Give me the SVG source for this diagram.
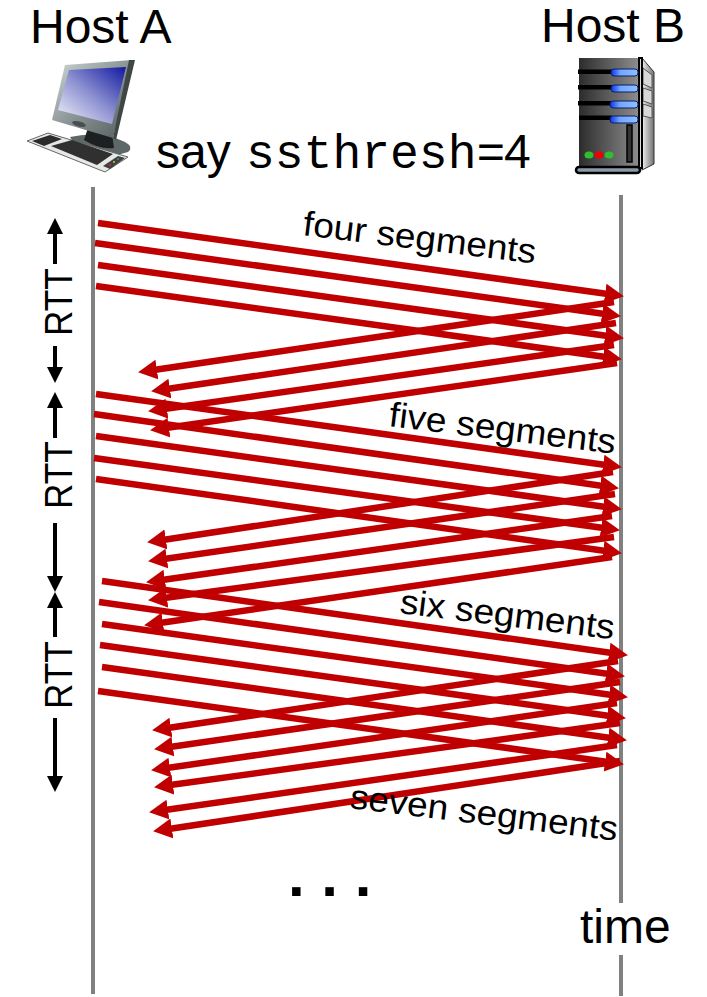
<svg xmlns="http://www.w3.org/2000/svg" width="707" height="997" viewBox="0 0 707 997">
<style>
text{font-family:"Liberation Sans",Arial,sans-serif;fill:#000}
.h{font-size:48px}
.s{font-size:37px}
.r{font-size:39px}
.m{font-size:48px;font-family:"Liberation Mono","Courier New",monospace}
.tl{stroke:#808080;stroke-width:4;fill:none}
.d{stroke:#c00000;stroke-width:6.500;fill:none;marker-end:url(#ah)}
.k{stroke:#000;stroke-width:4;fill:none;marker-end:url(#bk)}
.bar{fill:#000}
.pill{fill:url(#led);stroke:#0a1a70;stroke-width:1}
.bay{fill:#d8d8d8;stroke:#555;stroke-width:1}
</style>
<defs>
<marker id="ah" markerUnits="userSpaceOnUse" markerWidth="22" markerHeight="22" refX="10" refY="10" orient="auto"><path d="M0 0L19 10L0 20Z" fill="#c00000"/></marker>
<marker id="bk" markerUnits="userSpaceOnUse" markerWidth="20" markerHeight="20" refX="2" refY="8" orient="auto"><path d="M0 0L16 8L0 16Z" fill="#000"/></marker>
<linearGradient id="scr" x1="1" y1="0" x2="0" y2="1"><stop offset="0" stop-color="#1018a0"/><stop offset=".5" stop-color="#8c90d0"/><stop offset="1" stop-color="#f6f6fc"/></linearGradient>
<linearGradient id="bez" x1="0" y1="0" x2="1" y2="1"><stop offset="0" stop-color="#d0d8d8"/><stop offset=".5" stop-color="#8a9494"/><stop offset="1" stop-color="#505a5a"/></linearGradient>
<linearGradient id="srv" x1="0" y1="0" x2="1" y2="0"><stop offset="0" stop-color="#2c2c2c"/><stop offset="1" stop-color="#8c8c8c"/></linearGradient>
<linearGradient id="led" x1="0" y1="0" x2="1" y2="0"><stop offset="0" stop-color="#1030e0"/><stop offset=".35" stop-color="#70a8ff"/><stop offset="1" stop-color="#90c0ff"/></linearGradient>
<linearGradient id="sd" x1="0" y1="0" x2="1" y2="0"><stop offset="0" stop-color="#f0f0f0"/><stop offset="1" stop-color="#707070"/></linearGradient>
</defs>
<g id="timelines">
<path class="tl" d="M93 187V994"/>
<path class="tl" d="M621 195V903M621 955V996"/>
</g>
<g id="host-a">
<text class="h" x="30" y="43">Host A</text>
<g id="computer">
<path d="M70 137Q100 130 125 142Q134 147 128 152L110 157L75 145Z" fill="#5e6868"/>
<path d="M88 128L112 134L114 148Q100 150 84 140Z" fill="#1c2020"/>
<path d="M65 65L132 60L113 138L52 120Z" fill="url(#bez)"/>
<path d="M129 60L135 60L116 140L113 138Z" fill="#3e4646"/>
<path d="M69 70L126 67L112 124L58 110Z" fill="url(#scr)"/>
<ellipse cx="79" cy="124" rx="7" ry="2.500" fill="#48504f" transform="rotate(14 79 124)"/>
<path d="M27 141L48 133L128 157L105 172Z" fill="#e6e8e6" stroke="#666" stroke-width="1"/>
<path d="M32 141L50 135L62 139L44 146Z" fill="#2c2c2c"/>
<path d="M51 146L72 140L113 154L97 165Z" fill="#303030"/>
<path d="M103 166L118 156L125 158L110 169Z" fill="#404040"/>
<circle cx="110" cy="165" r="1" fill="#d03030"/><circle cx="114" cy="162" r="1" fill="#e0c030"/><circle cx="118" cy="159" r="1" fill="#30a050"/>
</g>
</g>
<g id="host-b">
<text class="h" x="541" y="42">Host B</text>
<g id="server">
<path d="M642 58L654 72V164L642 170Z" fill="url(#sd)" stroke="#333" stroke-width="1"/>
<path class="bay" d="M643 68L652 75V88L643 84Z"/>
<path class="bay" d="M643 88L652 91V104L643 101Z"/>
<path class="bay" d="M643 104L652 107V118L643 116Z"/>
<rect x="579" y="58" width="59" height="108" fill="url(#srv)"/>
<rect x="639" y="58" width="3" height="110" fill="#ddd" stroke="#000" stroke-width="2"/>
<rect class="bar" x="578" y="69.500" width="34" height="4.500"/><rect class="bar" x="578" y="85" width="34" height="4.500"/><rect class="bar" x="578" y="101" width="34" height="4.500"/><rect class="bar" x="579" y="115.500" width="33" height="4.500"/>
<rect class="pill" x="611" y="69" width="27" height="7" rx="3"/><rect class="pill" x="611" y="85" width="27" height="7" rx="3"/><rect class="pill" x="610" y="101" width="28" height="7" rx="3"/><rect class="pill" x="610" y="116" width="28" height="7" rx="3"/>
<rect x="627" y="125" width="5" height="37" fill="#333" stroke="#000" stroke-width="1.500"/>
<ellipse cx="589" cy="155" rx="4.500" ry="3.500" fill="#2dbf2d"/><ellipse cx="599" cy="155" rx="4.500" ry="3.500" fill="#f00000"/><ellipse cx="609" cy="155" rx="4.500" ry="3.500" fill="#2dbf2d"/>
<rect x="576" y="167" width="64" height="6" rx="3" fill="#8a9aa8" stroke="#000" stroke-width="2.500"/>
</g>
</g>
<g id="threshold-note">
<text class="h" x="156" y="168">say</text>
<text class="m" x="246" y="168">ssthresh=</text>
<text class="h" x="504" y="168">4</text>
</g>
<g id="connectors">
<g id="round-1">
<path class="d" d="M98 223L615 295"/><path class="d" d="M95 243L612 315"/><path class="d" d="M98 265L615 337"/><path class="d" d="M96 286L613 358"/>
<path class="d" d="M614 302L147 371"/><path class="d" d="M616 323L160 390"/><path class="d" d="M614 345L157 410"/><path class="d" d="M617 363L159 429"/>
</g>
<g id="round-2">
<path class="d" d="M96 394L613 466"/><path class="d" d="M94 414L610 487"/><path class="d" d="M96 436L613 508"/><path class="d" d="M94 458L611 529"/><path class="d" d="M96 479L613 552"/>
<path class="d" d="M613 472L156 541"/><path class="d" d="M615 494L157 560"/><path class="d" d="M612 516L155 581"/><path class="d" d="M614 537L157 599"/><path class="d" d="M612 557L153 624"/>
</g>
<g id="round-3">
<path class="d" d="M102 581L619 654"/><path class="d" d="M99 602L616 675"/><path class="d" d="M102 624L619 696"/><path class="d" d="M100 645L617 717"/><path class="d" d="M102 667L618 739"/><path class="d" d="M98 691L615 763"/>
<path class="d" d="M618 661L161 729"/><path class="d" d="M620 682L163 748"/><path class="d" d="M617 703L160 769"/><path class="d" d="M620 723L163 786"/><path class="d" d="M617 745L158 811"/><path class="d" d="M620 761L162 830"/>
</g>
<g id="rtt-scale">
<path class="k" d="M55 264V232"/>
<path class="k" d="M55 346V369"/>
<path class="k" d="M55 438V406"/>
<path class="k" d="M55 523V578"/>
<path class="k" d="M55 637V606"/>
<path class="k" d="M55 718V778"/>
</g>
</g>
<g id="labels">
<text class="r" transform="translate(72 336) rotate(-90) scale(.9 1)">RTT</text>
<text class="r" transform="translate(72 509) rotate(-90) scale(.9 1)">RTT</text>
<text class="r" transform="translate(72 709) rotate(-90) scale(.9 1)">RTT</text>
<text class="s" transform="translate(302 235) rotate(7) scale(1 .94)">four segments</text>
<text class="s" transform="translate(388 426) rotate(7) scale(1 .94)">five segments</text>
<text class="s" transform="translate(399 613) rotate(7) scale(1 .94)">six segments</text>
<text class="s" transform="translate(349 808) rotate(7) scale(1 .94)">seven segments</text>
<text class="h" x="580" y="943">time</text>
<text x="288" y="896" font-size="60" font-weight="bold">. . .</text>
</g>
</svg>
